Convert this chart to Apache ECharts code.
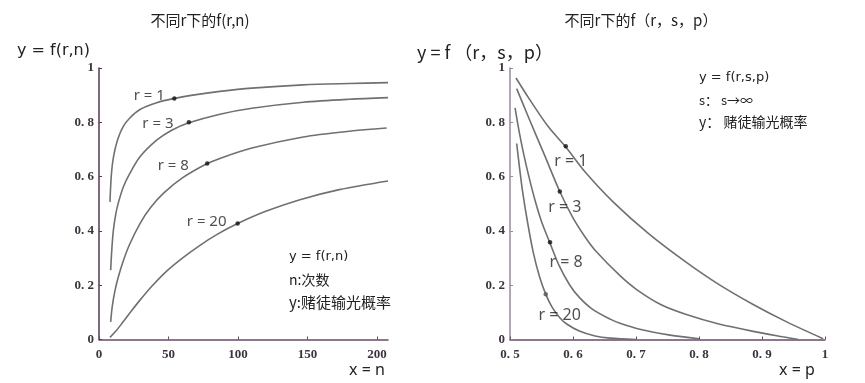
<!DOCTYPE html>
<html><head><meta charset="utf-8">
<script src="https://cdn.jsdelivr.net/npm/echarts@6/dist/echarts.min.js"></script>
<style>html,body{margin:0;padding:0;background:#fff}#c{width:865px;height:383px}</style>
</head><body><div id="c"></div>
<script>
// ---------- data ----------
const curveNames = ['r = 1', 'r = 3', 'r = 8', 'r = 20'];

// left chart: f(r,n) vs n
const n_r1 = [[7.9,0.507],[8.5,0.575],[9.2,0.625],[10.2,0.665],[11.5,0.7],[14,0.745],[17.5,0.785],[22,0.815],[29.5,0.847],[41.5,0.872],[54.2,0.888],[70,0.902],[87,0.914],[110,0.926],[147,0.938],[180,0.943],[208,0.946]];
const n_r3 = [[8.4,0.255],[9.2,0.33],[10.3,0.40],[12,0.46],[14,0.505],[17.5,0.562],[22,0.61],[29.5,0.673],[41.5,0.734],[52,0.77],[64.7,0.798],[87,0.83],[110,0.852],[147,0.874],[180,0.885],[208,0.891]];
const n_r8 = [[8.4,0.065],[9.5,0.12],[11.5,0.18],[14,0.232],[17.5,0.29],[22,0.35],[29.5,0.427],[37,0.485],[46.3,0.538],[60,0.595],[77.9,0.648],[87,0.667],[110,0.705],[147,0.746],[180,0.767],[207,0.779]];
const n_r20 = [[7.9,0.008],[12,0.03],[17.5,0.066],[23,0.103],[29.5,0.145],[38,0.196],[48.7,0.252],[60,0.300],[72.7,0.347],[85,0.387],[99.8,0.427],[120,0.472],[144.6,0.515],[173,0.552],[208,0.584]];
const n_dots = [[54.2,0.888],[64.7,0.80],[77.9,0.648],[99.8,0.427]];

// right chart: f(r,s,p) vs p
const p_r1 = [[0.5095,0.963],[0.53,0.888],[0.56,0.786],[0.5889,0.708],[0.62,0.615],[0.664,0.506],[0.72,0.39],[0.78,0.284],[0.83,0.205],[0.886,0.129],[0.94,0.064],[0.997,0.003]];
const p_r3 = [[0.5106,0.924],[0.53,0.815],[0.555,0.678],[0.579,0.545],[0.6,0.448],[0.62,0.375],[0.6376,0.322],[0.6746,0.235],[0.701,0.184],[0.74,0.128],[0.78,0.092],[0.83,0.058],[0.886,0.03],[0.933,0.01],[0.958,0]];
const p_r8 = [[0.508,0.853],[0.515,0.76],[0.522,0.68],[0.53,0.6],[0.5397,0.513],[0.55,0.435],[0.5635,0.355],[0.578,0.272],[0.595,0.2],[0.61,0.155],[0.63,0.113],[0.659,0.075],[0.6746,0.06],[0.706,0.038],[0.754,0.016],[0.8,0.003]];
const p_r20 = [[0.5106,0.722],[0.515,0.635],[0.52,0.545],[0.528,0.43],[0.537,0.32],[0.547,0.23],[0.5567,0.167],[0.567,0.118],[0.579,0.08],[0.59,0.057],[0.61,0.031],[0.635,0.013],[0.659,0.005],[0.7,0]];
const p_dots = [[0.5885,0.712],[0.579,0.545],[0.5635,0.358],[0.5567,0.167]];

// tick labels
const yTickValues = [0, 0.2, 0.4, 0.6, 0.8, 1];
const yTickLabels = ['0', '0. 2', '0. 4', '0. 6', '0. 8', '1'];
const nTickValues = [0, 50, 100, 150, 200];
const nTickLabels = ['0', '50', '100', '150', '200'];
const pTickValues = [0.5, 0.6, 0.7, 0.8, 0.9, 1];
const pTickLabels = ['0. 5', '0. 6', '0. 7', '0. 8', '0. 9', '1'];

// ---------- styles ----------
const leftLabelOffsets = [[-25,-3],[-31,1],[-34,2],[-31,-2]];
const rightLabelOffsets = [[5,15],[5,16],[16,20],[14,21]];
const rightDotColors = ['#111','#111','#111','#555'];
const lineColor = '#707070';
const tickFont = {fontFamily:'Liberation Serif', fontWeight:'bold', fontSize:13, color:'#3d3340'};

function fmt(vals, labels){
  return function(v){
    for (let i=0;i<vals.length;i++){ if (Math.abs(vals[i]-v) < 1e-6) return labels[i]; }
    return '';
  };
}

function axisCommon(color){
  return {
    axisLine:{show:true, onZero:false, lineStyle:{color:color, width:1.5}},
    axisTick:{show:true, inside:true, length:3, lineStyle:{color:color, width:1}},
    splitLine:{show:false}
  };
}

const curves = [
  {data:n_r1, g:0},{data:n_r3, g:0},{data:n_r8, g:0},{data:n_r20, g:0},
  {data:p_r1, g:1},{data:p_r3, g:1},{data:p_r8, g:1},{data:p_r20, g:1}
];

const series = curves.map(c => ({
  type:'line', xAxisIndex:c.g, yAxisIndex:c.g, data:c.data, showSymbol:false,
  smooth:0.3, lineStyle:{color:lineColor, width:1.6}, silent:true, z:2
}));

series.push({
  type:'scatter', xAxisIndex:0, yAxisIndex:0, symbolSize:4.5, z:5,
  itemStyle:{color:'#111'},
  data:n_dots.map((d,i)=>({value:d, label:{show:true, position:'inside', formatter:curveNames[i], offset:leftLabelOffsets[i]}})),
  label:{fontFamily:'Noto Sans', fontSize:15, color:'#222'}
});
series.push({
  type:'scatter', xAxisIndex:1, yAxisIndex:1, symbolSize:4.5, z:5,
  data:p_dots.map((d,i)=>({value:d, itemStyle:{color:rightDotColors[i]}, label:{show:true, position:'inside', formatter:curveNames[i], offset:rightLabelOffsets[i]}})),
  label:{fontFamily:'Noto Sans', fontSize:16, color:'#222'}
});

function txt(x, y, text, size, family, align){
  return {type:'text', x:x, y:y, silent:true, style:{text:text, fontSize:size, fontFamily:family||'Noto Sans CJK SC', fill:'#222', align:align||'left', verticalAlign:'middle'}};
}

const option = {
  backgroundColor:'#fff',
  animation:false,
  grid:[
    {left:99, top:68, width:289, height:271.5},
    {left:510, top:68, width:315, height:271.5}
  ],
  xAxis:[
    Object.assign({type:'value', gridIndex:0, min:0, max:208,
      axisLabel:Object.assign({customValues:nTickValues, formatter:fmt(nTickValues,nTickLabels), margin:9}, tickFont)},
      axisCommon('#6a4a68'), {axisTick:{show:true, inside:true, length:3, customValues:nTickValues, lineStyle:{color:'#6a4a68'}}}),
    Object.assign({type:'value', gridIndex:1, min:0.5, max:1, interval:0.1,
      axisLabel:Object.assign({formatter:fmt(pTickValues,pTickLabels), margin:9}, tickFont)},
      axisCommon('#6a4a68'))
  ],
  yAxis:[
    Object.assign({type:'value', gridIndex:0, min:0, max:1, interval:0.2,
      axisLabel:Object.assign({formatter:fmt(yTickValues,yTickLabels), margin:5}, tickFont)},
      axisCommon('#5a3358')),
    Object.assign({type:'value', gridIndex:1, min:0, max:1, interval:0.2,
      axisLabel:Object.assign({formatter:fmt(yTickValues,yTickLabels), margin:5}, tickFont)},
      axisCommon('#9a88a0'))
  ],
  series:series,
  graphic:[
    txt(200, 20, '不同r下的f(r,n)', 15, 'Noto Sans CJK SC', 'center'),
    txt(641, 20, '不同r下的f（r，s，p）', 15, 'Noto Sans CJK SC', 'center'),
    txt(17, 51, 'y = f(r,n)', 16, 'DejaVu Sans'),
    txt(417, 52, 'y = f （r，s，p）', 18, 'Noto Sans CJK SC'),
    txt(367, 370, 'x = n', 16, 'Noto Sans', 'center'),
    txt(797, 370, 'x = p', 16, 'Noto Sans', 'center'),
    txt(289, 257, 'y = f(r,n)', 13, 'DejaVu Sans'),
    txt(289, 280, 'n:次数', 14),
    txt(289, 302, 'y:赌徒输光概率', 15),
    txt(699, 78, 'y = f(r,s,p)', 13, 'DejaVu Sans'),
    txt(699, 100, 's： s→∞', 13),
    txt(699, 122, 'y： 赌徒输光概率', 14)
  ]
};

echarts.init(document.getElementById('c')).setOption(option);
</script></body></html>
